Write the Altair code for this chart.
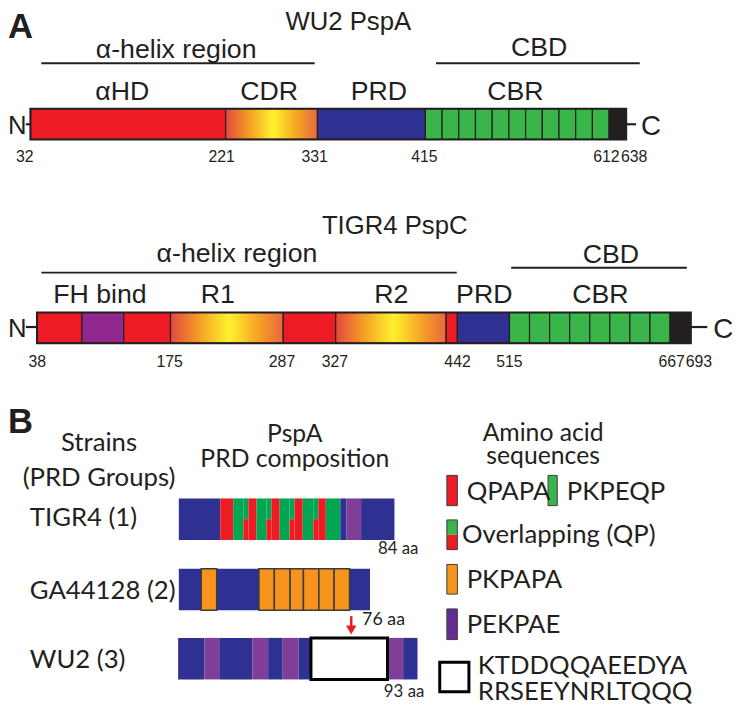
import altair as alt
import pandas as pd

# ---------------- colours ----------------
RED = "#ed1c24"; BLUE = "#2e3192"; GREEN = "#39b54a"; BLACK = "#231f20"
FH_PURPLE = "#92278f"; B_GREEN = "#00a651"; B_PURPLE = "#7f3f98"
ORANGE = "#f7941d"; L_PURPLE = "#662d91"; EDGE = "#3c3c3c"
PAL = {"red": RED, "blue": BLUE, "black": BLACK, "fh": FH_PURPLE,
       "green": B_GREEN, "purple": B_PURPLE, "orange": ORANGE}

# ---------------- panel A : WU2 PspA ----------------
wu2_edges = [30.7, 228, 320.7, 430, 615.7, 633]
wu2_kinds = ["red", "grad", "blue", "cbr", "black"]
wu2_cbr_n = 11
wu2_bar = [106, 137]
wu2_tick_lab = ["32", "221", "331", "415", "612", "638"]
wu2_tick_x = [25, 224, 318, 429, 613, 641]
wu2_dom_lab = ["αHD", "CDR", "PRD", "CBR"]
wu2_dom_x = [123.5, 272, 383, 521]

# ---------------- panel A : TIGR4 PspC ----------------
tig_edges = [37.3, 82.7, 125, 172.3, 286, 339.3, 450.7, 462.3, 515, 677.3, 698.3]
tig_kinds = ["red", "fh", "red", "grad", "red", "grad", "red", "blue", "cbr", "black"]
tig_cbr_n = 8
tig_bar = [312, 343]
tig_tick_lab = ["38", "175", "287", "327", "442", "515", "667", "693"]
tig_tick_x = [37.5, 171.5, 285, 338.5, 462.5, 515, 679, 706.5]
tig_dom_lab = ["FH bind", "R1", "R2", "PRD", "CBR"]
tig_dom_x = [101, 220, 395.5, 489.5, 607]

# ---------------- panel B : PRD composition ----------------
strains = ["TIGR4 (1)", "GA44128 (2)", "WU2 (3)"]
prd_len = ["84 aa", "76 aa", "93 aa"]
b_tig_edges = [180.7, 222.7, 235.7, 246, 251, 259.3, 269.3, 274.3, 282.7, 292.7,
               297.7, 306, 316.7, 321.7, 329.3, 344, 350, 365, 398.7]
b_tig_kinds = ["blue", "red", "green", "ovl", "red", "green", "ovl", "red", "green",
               "ovl", "red", "green", "ovl", "red", "green", "blue", "purple", "blue"]
b_tig_bar = [500, 542]
b_ga_edges = [180.7, 203.3, 219, 261.7, 277.3, 293.3, 306.7, 322.3, 337.7, 353.3, 374]
b_ga_kinds = ["blue", "orange", "blue", "orange", "orange", "orange", "orange",
              "orange", "orange", "blue"]
b_ga_bar = [571, 613]
b_wu_edges = [180, 206.7, 222.3, 255, 271, 285.7, 301.7, 314.3, 391.7, 407.5, 422]
b_wu_kinds = ["blue", "purple", "blue", "purple", "blue", "purple", "blue", "box",
              "purple", "blue"]
b_wu_bar = [641, 683]

legend_lab = ["QPAPA", "PKPEQP", "Overlapping (QP)", "PKPAPA", "PEKPAE",
              "KTDDQQAEEDYA", "RRSEEYNRLTQQQ"]

# ---------------- build tables ----------------
rects, grads, outlines = [], [], []


def bar_a(edges, kinds, yb, n_cbr):
    for a, b, k in zip(edges[:-1], edges[1:], kinds):
        if k == "grad":
            grads.append(dict(x=a, x2=b, y=yb[0], y2=yb[1]))
        elif k == "cbr":
            w = (b - a) / n_cbr
            for i in range(n_cbr):
                rects.append(dict(x=a + i * w, x2=a + (i + 1) * w, y=yb[0], y2=yb[1],
                                  fill=GREEN, stroke=BLACK, sw=1.2))
        else:
            rects.append(dict(x=a, x2=b, y=yb[0], y2=yb[1], fill=PAL[k], stroke=BLACK, sw=1.2))
    outlines.append(dict(x=edges[0], x2=edges[-1], y=yb[0], y2=yb[1], sw=2))


bar_a(wu2_edges, wu2_kinds, wu2_bar, wu2_cbr_n)
bar_a(tig_edges, tig_kinds, tig_bar, tig_cbr_n)

boxes = []


def bar_b(edges, kinds, yb):
    mid = (yb[0] + yb[1]) / 2
    for a, b, k in zip(edges[:-1], edges[1:], kinds):
        if k == "ovl":
            rects.append(dict(x=a, x2=b, y=yb[0], y2=mid, fill=B_GREEN, stroke=B_GREEN, sw=0))
            rects.append(dict(x=a, x2=b, y=mid, y2=yb[1], fill=RED, stroke=RED, sw=0))
        elif k == "box":
            boxes.append(dict(x=a, x2=b, y=yb[0], y2=yb[1], fill="#ffffff", stroke="#000000", sw=3))
        elif k == "orange":
            boxes.append(dict(x=a, x2=b, y=yb[0], y2=yb[1], fill=ORANGE, stroke=EDGE, sw=1.5))
        else:
            rects.append(dict(x=a, x2=b, y=yb[0], y2=yb[1], fill=PAL[k], stroke=PAL[k], sw=0))


bar_b(b_tig_edges, b_tig_kinds, b_tig_bar)
bar_b(b_ga_edges, b_ga_kinds, b_ga_bar)
bar_b(b_wu_edges, b_wu_kinds, b_wu_bar)

# legend swatches
sw_rows = [
    dict(x=451.7, x2=462.3, y=476.7, y2=507.3, fill=RED, stroke=EDGE, sw=1),
    dict(x=554, x2=563.3, y=476.7, y2=507.3, fill=GREEN, stroke=EDGE, sw=1),
    dict(x=451.7, x2=462.3, y=521.7, y2=536.7, fill=GREEN, stroke=GREEN, sw=0),
    dict(x=451.7, x2=462.3, y=536.7, y2=551.7, fill=RED, stroke=RED, sw=0),
    dict(x=451.7, x2=462.3, y=521.7, y2=551.7, fill="transparent", stroke=EDGE, sw=1),
    dict(x=451.7, x2=462.3, y=566.7, y2=596.7, fill=ORANGE, stroke=EDGE, sw=1),
    dict(x=451.7, x2=462.3, y=611.7, y2=642.7, fill=L_PURPLE, stroke=EDGE, sw=1),
    dict(x=444.5, x2=474, y=665.5, y2=695.5, fill="#ffffff", stroke="#000000", sw=3),
]
rects_df = pd.DataFrame(rects + boxes + sw_rows)
grads_df = pd.DataFrame(grads)
outl_df = pd.DataFrame(outlines)

# lines (region bars, N/C tails)
rules = [
    dict(x=41.7, x2=318, y=60, sw=2), dict(x=440.7, x2=646.7, y=60, sw=2),
    dict(x=41.7, x2=461.7, y=271.7, sw=2), dict(x=516.7, x2=694.3, y=266.7, sw=2),
    dict(x=26, x2=30.7, y=121.7, sw=2.2), dict(x=633, x2=643, y=121.7, sw=2.2),
    dict(x=26, x2=37.3, y=326.7, sw=2.2), dict(x=698.3, x2=715, y=326.7, sw=2.2),
]
rules_df = pd.DataFrame(rules)

# texts
ta_c = []  # Liberation Sans centered
for t, x in zip(wu2_tick_lab, wu2_tick_x):
    ta_c.append(dict(t=t, x=x, y=160, s=16))
for t, x in zip(tig_tick_lab, tig_tick_x):
    ta_c.append(dict(t=t, x=x, y=366.7, s=16))
for t, x in zip(wu2_dom_lab, wu2_dom_x):
    ta_c.append(dict(t=t, x=x, y=97, s=27))
for t, x in zip(tig_dom_lab, tig_dom_x):
    ta_c.append(dict(t=t, x=x, y=302, s=27))
ta_c += [
    dict(t="WU2 PspA", x=352, y=26, s=26),
    dict(t="α-helix region", x=178, y=55, s=27),
    dict(t="CBD", x=545, y=53, s=27),
    dict(t="TIGR4 PspC", x=399, y=233, s=26),
    dict(t="α-helix region", x=239.5, y=261, s=27),
    dict(t="CBD", x=617.5, y=261.7, s=27),
]
ta_l = [
    dict(t="N", x=8, y=132, s=26), dict(t="C", x=648, y=132.5, s=28),
    dict(t="N", x=8, y=337, s=26), dict(t="C", x=721, y=337.5, s=28),
]
ta_b = [dict(t="A", x=8, y=34, s=35), dict(t="B", x=8, y=434, s=35)]

tb_c = [
    dict(t="Strains", x=100, y=452, s=26), dict(t="(PRD Groups)", x=100, y=487, s=26),
    dict(t="PspA", x=298, y=443, s=25), dict(t="PRD composition", x=298, y=468, s=25),
    dict(t="Amino acid", x=549, y=442, s=25), dict(t="sequences", x=549, y=465, s=25),
]
tb_l = []
for t, y in zip(strains, [528, 601.7, 671]):
    tb_l.append(dict(t=t, x=30, y=y, s=26))
for t, x, y, s in zip(prd_len, [382, 366, 388], [556, 628, 701], [17, 18, 17]):
    tb_l.append(dict(t=t, x=x, y=y, s=s))
for t, x, y in zip(legend_lab, [471.7, 573, 467, 471.7, 471.7, 483, 483],
                   [501.7, 501.7, 545, 590.7, 636, 677, 704]):
    tb_l.append(dict(t=t, x=x, y=y, s=26))

XS = alt.Scale(domain=[8, 742], nice=False, zero=False)
YS = alt.Scale(domain=[8, 707], nice=False, zero=False, reverse=True)


def X(f="x"):
    return alt.X(f"{f}:Q", scale=XS, axis=None)


def Y(f="y"):
    return alt.Y(f"{f}:Q", scale=YS, axis=None)


rect_layer = alt.Chart(rects_df).mark_rect().encode(
    x=X(), x2="x2:Q", y=Y(), y2="y2:Q",
    fill=alt.Fill("fill:N", scale=None),
    stroke=alt.Stroke("stroke:N", scale=None),
    strokeWidth=alt.StrokeWidth("sw:Q", scale=None),
)

grad = alt.LinearGradient(
    gradient="linear",
    stops=[alt.GradientStop(offset=0, color="#e2483f"),
           alt.GradientStop(offset=0.25, color="#f49c24"),
           alt.GradientStop(offset=0.52, color="#fff22e"),
           alt.GradientStop(offset=0.78, color="#f6a324"),
           alt.GradientStop(offset=1, color="#e8683e")],
    x1=0, x2=1, y1=0, y2=0,
)
grad_layer = alt.Chart(grads_df).mark_rect(fill=grad, stroke=BLACK, strokeWidth=1.2).encode(
    x=X(), x2="x2:Q", y=Y(), y2="y2:Q")

outl_layer = alt.Chart(outl_df).mark_rect(fill="transparent", stroke=BLACK).encode(
    x=X(), x2="x2:Q", y=Y(), y2="y2:Q",
    strokeWidth=alt.StrokeWidth("sw:Q", scale=None))

rule_layer = alt.Chart(rules_df).mark_rule(color=BLACK).encode(
    x=X(), x2="x2:Q", y=Y(), strokeWidth=alt.StrokeWidth("sw:Q", scale=None))

arrow_df = pd.DataFrame([dict(x=355, y=619, y2=631)])
arrow_rule = alt.Chart(arrow_df).mark_rule(color=RED, strokeWidth=2.5).encode(
    x=X(), y=Y(), y2="y2:Q")
arrow_head = alt.Chart(pd.DataFrame([dict(x=355, y=633)])).mark_point(
    shape="triangle-down", filled=True, color=RED, size=110, opacity=1).encode(x=X(), y=Y())


def text_layer(rows, font, align, weight="normal"):
    return alt.Chart(pd.DataFrame(rows)).mark_text(
        font=font, align=align, baseline="alphabetic", fontWeight=weight, color="#231f20"
    ).encode(x=X(), y=Y(), text="t:N", size=alt.Size("s:Q", scale=None))


chart = alt.layer(
    rule_layer, rect_layer, grad_layer, outl_layer, arrow_rule, arrow_head,
    text_layer(ta_c, "Liberation Sans", "center"),
    text_layer(ta_l, "Liberation Sans", "left"),
    text_layer(ta_b, "Liberation Sans", "left", "bold"),
    text_layer(tb_c, "Lato", "center"),
    text_layer(tb_l, "Lato", "left"),
).properties(
    width=734, height=699, padding=0, autosize=alt.AutoSizeParams(type="none"),
).configure_view(stroke=None)

chart.save("out.html", embed_options={"renderer": "svg", "actions": False})
